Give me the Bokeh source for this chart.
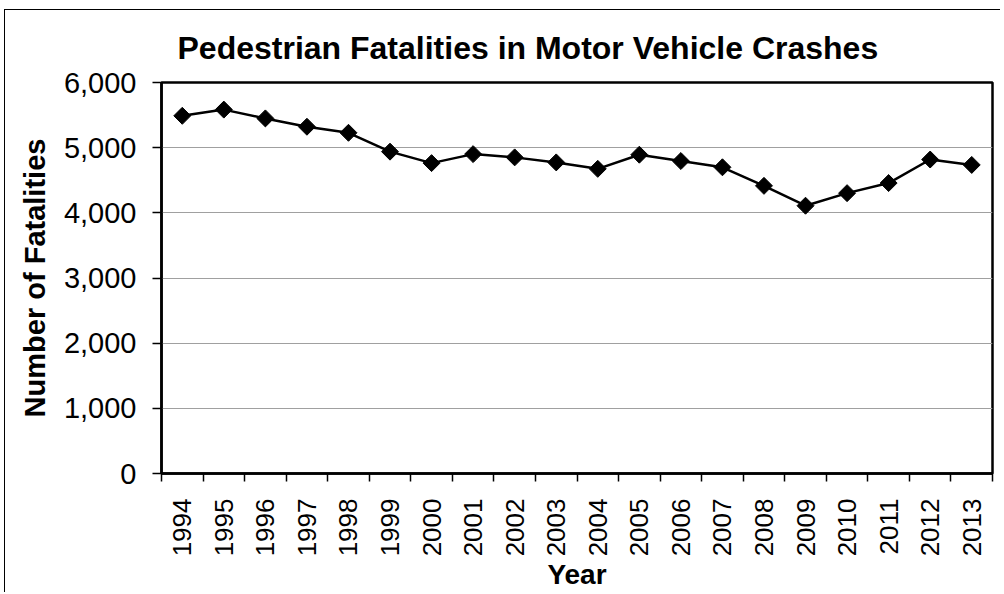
from bokeh.plotting import figure
from bokeh.models import FixedTicker, NumeralTickFormatter, Range1d, Title
from bokeh.embed import file_html
from bokeh.resources import INLINE
from math import pi

years = [1994, 1995, 1996, 1997, 1998, 1999, 2000, 2001, 2002, 2003,
         2004, 2005, 2006, 2007, 2008, 2009, 2010, 2011, 2012, 2013]
fatalities = [5489, 5584, 5449, 5321, 5228, 4939, 4763, 4901, 4851, 4774,
              4675, 4892, 4795, 4699, 4414, 4109, 4302, 4457, 4818, 4735]
y_ticks = [0, 1000, 2000, 3000, 4000, 5000, 6000]

FONT = "Liberation Sans"

p = figure(width=996, height=583, output_backend="svg", toolbar_location=None,
           x_range=Range1d(years[0] - 0.5, years[-1] + 0.5),
           y_range=Range1d(0, 6000),
           min_border_left=156, min_border_right=9,
           min_border_top=72, min_border_bottom=118)

p.title = Title(text="Pedestrian Fatalities in Motor Vehicle Crashes",
                align="left", offset=16, text_font=FONT, text_font_size="32px",
                text_font_style="bold", text_color="black", standoff=34)

p.line(years, fatalities, line_color="black", line_width=2.5)
p.scatter(years, fatalities, marker="square", angle=pi / 4, size=12,
          fill_color="black", line_color="black")

p.outline_line_color = "black"
p.outline_line_width = 2.5
p.xgrid.grid_line_color = None
p.ygrid.grid_line_color = "#a0a0a0"
p.ygrid.grid_line_width = 1
p.ygrid.ticker = FixedTicker(ticks=y_ticks)

xa = p.xaxis[0]
xa.ticker = FixedTicker(ticks=years, minor_ticks=[y - 0.5 for y in years] + [years[-1] + 0.5])
xa.major_tick_out = 0
xa.major_tick_in = 0
xa.minor_tick_out = 8
xa.minor_tick_in = 0
xa.minor_tick_line_color = "black"
xa.minor_tick_line_width = 1.5
xa.axis_line_width = 2.5
xa.major_label_orientation = pi / 2
xa.major_label_standoff = 17
xa.major_label_text_font = FONT
xa.major_label_text_font_size = "26px"
xa.major_label_text_color = "black"
xa.axis_label = "Year"
xa.axis_label_text_font = FONT
xa.axis_label_text_font_size = "28px"
xa.axis_label_text_font_style = "bold"
xa.axis_label_text_color = "black"
xa.axis_label_standoff = 0

ya = p.yaxis[0]
ya.ticker = FixedTicker(ticks=y_ticks)
ya.formatter = NumeralTickFormatter(format="0,0")
ya.major_tick_out = 9
ya.major_tick_in = 0
ya.minor_tick_out = 0
ya.minor_tick_in = 0
ya.major_tick_line_width = 1.5
ya.axis_line_width = 2.5
ya.major_label_standoff = 16
ya.major_label_text_font = FONT
ya.major_label_text_font_size = "29px"
ya.major_label_text_color = "black"
ya.axis_label = "Number of Fatalities"
ya.axis_label_text_font = FONT
ya.axis_label_text_font_size = "29px"
ya.axis_label_text_font_style = "bold"
ya.axis_label_text_color = "black"
ya.axis_label_standoff = 10

p.styles = {"margin-left": "4px", "margin-top": "9px",
            "border-left": "1px solid black", "border-top": "1px solid black"}

open("out.html", "w").write(file_html(p, INLINE))
